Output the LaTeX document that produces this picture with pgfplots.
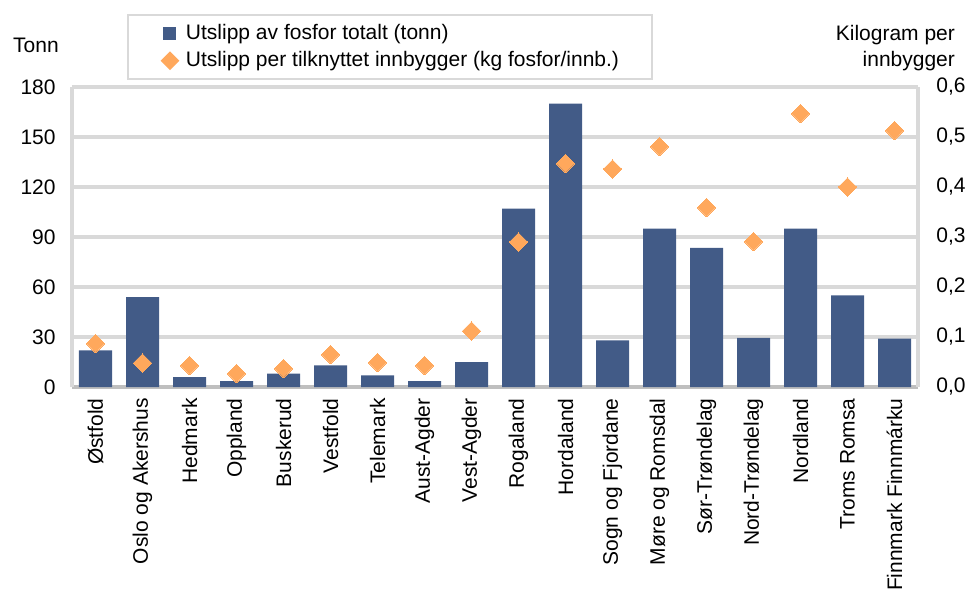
\documentclass[border=0pt]{standalone}
\usepackage{fontspec}
\setmainfont{Liberation Sans}
\usepackage{pgfplots}
\pgfplotsset{compat=1.18}

\definecolor{barblue}{RGB}{66,91,135}
\definecolor{dotorange}{RGB}{255,168,92}
\definecolor{gridgray}{RGB}{217,217,217}
\definecolor{basegray}{RGB}{191,191,191}

\newcommand{\fs}{\fontsize{10.5}{12.6}\selectfont}

\pgfplotsset{
  common/.style={
    scale only axis, width=423pt, height=150pt,
    xmin=-0.5, xmax=17.5,
    major tick length=0pt,
    tick label style={font=\fs},
    /pgf/number format/assume math mode=true,
  }
}

\begin{document}
\begin{tikzpicture}[font=\fs]
\useasboundingbox (-36pt,-103.5pt) rectangle (447.5pt,193.5pt);

% bars: total phosphorus, tonnes (left axis)
\begin{axis}[common,
  clip=false,
  ybar, bar width=16.5pt,
  ymin=0, ymax=180, ytick={0,30,60,90,120,150,180},
  xtick={0,...,17},
  xticklabels={Østfold, Oslo og Akershus, Hedmark, Oppland, Buskerud, Vestfold,
    Telemark, Aust-Agder, Vest-Agder, Rogaland, Hordaland, Sogn og Fjordane,
    Møre og Romsdal, Sør-Trøndelag, Nord-Trøndelag, Nordland, Troms Romsa,
    Finnmark Finnmárku},
  xticklabel style={rotate=90, anchor=east, inner xsep=5.5pt, inner ysep=0pt},
  yticklabel style={anchor=east, inner xsep=8pt, inner ysep=0pt},
  ymajorgrids, grid style={gridgray, line width=1.8pt},
  axis x line*=bottom, axis y line*=box,
  x axis line style={basegray, line width=1.8pt, -},
  y axis line style={gridgray, line width=1.8pt, -},
  legend cell align=left,
  legend style={at={(0.065,1.2433)}, anchor=north west, draw=gridgray,
    line width=1pt, fill=white, font=\fs,
    inner xsep=16.5pt, inner ysep=4.5pt, row sep=3.8pt, column sep=3.5pt,
    nodes={inner sep=0pt, text height=7.5pt, text depth=2.2pt}},
]
\addplot[fill=barblue, draw=none,
  legend image code/.code={\fill[barblue] (0pt,-3.25pt) rectangle (6.5pt,3.25pt);}]
  coordinates {
  (0,22) (1,54) (2,6) (3,3.5) (4,8) (5,13) (6,7) (7,3.5) (8,15)
  (9,107) (10,170) (11,28) (12,95) (13,83.5) (14,29.5) (15,95) (16,55) (17,29)
};
\addlegendentry{Utslipp av fosfor totalt (tonn)}
\addlegendimage{legend image code/.code={\fill[dotorange] (3.25pt,-4pt) -- (7.25pt,0pt) -- (3.25pt,4pt) -- (-0.75pt,0pt) -- cycle;}}
\addlegendentry{Utslipp per tilknyttet innbygger (kg fosfor/innb.)}

\node[font=\fs] at (rel axis cs:-0.0426,1.14) {Tonn};
\node[anchor=east, align=right, font=\fontsize{10.5}{13}\selectfont]
  at (rel axis cs:1.052,1.1283) {Kilogram per\\innbygger};
\end{axis}

% diamonds: kg per connected inhabitant (right axis)
\begin{axis}[common,
  axis y line*=right, axis x line=none,
  y axis line style={draw=none},
  ymin=0, ymax=0.6, ytick={0,0.1,0.2,0.3,0.4,0.5,0.6},
  yticklabel style={anchor=west, inner xsep=9pt, inner ysep=0pt,
    /pgf/number format/.cd, fixed, fixed zerofill, precision=1, use comma},
]
\addplot[only marks, color=dotorange, mark=square*, mark size=3.2pt,
  mark options={rotate=45, draw=dotorange, fill=dotorange, line width=0pt}]
  coordinates {
  (0,0.087) (1,0.048) (2,0.043) (3,0.027) (4,0.037) (5,0.065) (6,0.049)
  (7,0.043) (8,0.112) (9,0.29) (10,0.447) (11,0.436) (12,0.481) (13,0.359)
  (14,0.291) (15,0.547) (16,0.40) (17,0.513)
};
\end{axis}
\end{tikzpicture}
\end{document}
